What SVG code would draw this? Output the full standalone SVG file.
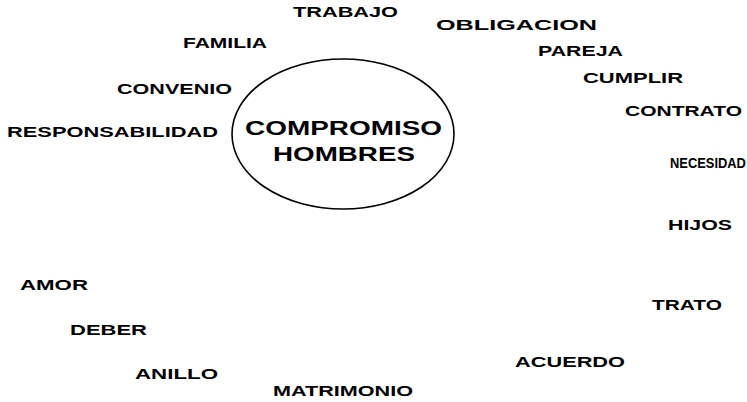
<svg xmlns="http://www.w3.org/2000/svg" width="747" height="402" viewBox="0 0 747 402">
<style>
.t{font-family:"Liberation Sans",Arial,sans-serif;font-weight:bold;font-size:15px;fill:#000}
.c{font-family:"Liberation Sans",Arial,sans-serif;font-weight:bold;font-size:21px;fill:#000}
.e{fill:#fff;stroke:#000;stroke-width:1.6}
</style>
<rect width="747" height="402" fill="#fff"/>
<g id="center">
<ellipse class="e" cx="343" cy="134" rx="111" ry="75"/>
<text class="c" x="245" y="135" textLength="197" lengthAdjust="spacingAndGlyphs">COMPROMISO</text>
<text class="c" x="273" y="161" textLength="142" lengthAdjust="spacingAndGlyphs">HOMBRES</text>
</g>
<g id="connectors"></g>
<g id="trabajo"><text class="t" x="293" y="17" textLength="105" lengthAdjust="spacingAndGlyphs">TRABAJO</text></g>
<g id="obligacion"><text class="t" x="436" y="30" textLength="161" lengthAdjust="spacingAndGlyphs">OBLIGACION</text></g>
<g id="familia"><text class="t" x="183" y="48" textLength="84" lengthAdjust="spacingAndGlyphs">FAMILIA</text></g>
<g id="pareja"><text class="t" x="538" y="56" textLength="85" lengthAdjust="spacingAndGlyphs">PAREJA</text></g>
<g id="cumplir"><text class="t" x="583" y="83" textLength="100" lengthAdjust="spacingAndGlyphs">CUMPLIR</text></g>
<g id="convenio"><text class="t" x="117" y="94" textLength="115" lengthAdjust="spacingAndGlyphs">CONVENIO</text></g>
<g id="contrato"><text class="t" x="625" y="116" textLength="117" lengthAdjust="spacingAndGlyphs">CONTRATO</text></g>
<g id="responsabilidad"><text class="t" x="7" y="137" textLength="211" lengthAdjust="spacingAndGlyphs">RESPONSABILIDAD</text></g>
<g id="necesidad"><text class="t" transform="translate(670,168) scale(0.86,1)" x="0" y="0" font-size="14">NECESIDAD</text></g>
<g id="hijos"><text class="t" x="668" y="230" textLength="64" lengthAdjust="spacingAndGlyphs">HIJOS</text></g>
<g id="amor"><text class="t" x="20" y="290" textLength="68" lengthAdjust="spacingAndGlyphs">AMOR</text></g>
<g id="trato"><text class="t" x="652" y="310" textLength="70" lengthAdjust="spacingAndGlyphs">TRATO</text></g>
<g id="deber"><text class="t" x="70" y="335" textLength="77" lengthAdjust="spacingAndGlyphs">DEBER</text></g>
<g id="acuerdo"><text class="t" x="515" y="367" textLength="110" lengthAdjust="spacingAndGlyphs">ACUERDO</text></g>
<g id="anillo"><text class="t" x="135" y="379" textLength="83" lengthAdjust="spacingAndGlyphs">ANILLO</text></g>
<g id="matrimonio"><text class="t" x="273" y="396" textLength="140" lengthAdjust="spacingAndGlyphs">MATRIMONIO</text></g>
</svg>
